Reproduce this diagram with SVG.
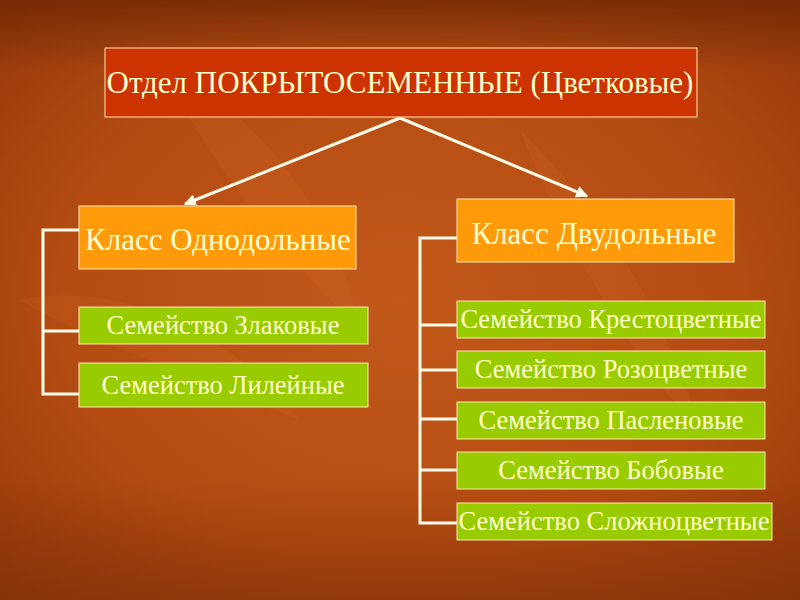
<svg xmlns="http://www.w3.org/2000/svg" width="800" height="600" viewBox="0 0 800 600">
<defs>
<radialGradient id="bg" cx="0.5" cy="0.5" r="0.7">
<stop offset="0" stop-color="#c2591a"/>
<stop offset="0.6" stop-color="#b44c12"/>
<stop offset="1" stop-color="#94380a"/>
</radialGradient>
<linearGradient id="topfade" x1="0" y1="0" x2="0" y2="1">
<stop offset="0" stop-color="#6e2604" stop-opacity="0.75"/>
<stop offset="1" stop-color="#6e2604" stop-opacity="0"/>
</linearGradient>
<linearGradient id="botfade" x1="0" y1="0" x2="0" y2="1">
<stop offset="0" stop-color="#7a2c06" stop-opacity="0"/>
<stop offset="1" stop-color="#7a2c06" stop-opacity="0.5"/>
</linearGradient>
<marker id="ah" viewBox="0 0 10 10" refX="9" refY="5" markerWidth="4" markerHeight="4" orient="auto" markerUnits="strokeWidth">
<path d="M0,0 L10,5 L0,10 z" fill="#fffbe8"/>
</marker>
<style>
.top{fill:#cc3300;stroke:#ffe8b0;stroke-width:1}
.cls{fill:#ff9a0a;stroke:#ffe8b0;stroke-width:1}
.fam{fill:#99cc00;stroke:#ffe8b0;stroke-width:1}
text{font-family:"Liberation Serif","Times New Roman",serif;fill:#ffffcc;text-anchor:middle}
.t1{font-size:31px}
.t2{font-size:31px}
.t3{font-size:26.5px}
.ln{stroke:#fffbe8;stroke-width:3;fill:none}
.leaf{fill:#e07a30;opacity:0.12}
</style>
</defs>
<rect width="800" height="600" fill="url(#bg)"/>
<rect width="800" height="70" fill="url(#topfade)"/>
<rect y="480" width="800" height="120" fill="url(#botfade)"/>
<path class="leaf" d="M160,60 C260,120 330,200 360,330 C290,260 210,170 160,60 z"/>
<path class="leaf" d="M520,130 C600,210 660,300 700,430 C630,360 570,250 520,130 z"/>
<path class="leaf" d="M20,300 C120,280 230,330 300,420 C200,380 110,350 20,300 z"/>
<g id="connectors">
<line class="ln" x1="400" y1="118" x2="185" y2="204" marker-end="url(#ah)"/>
<line class="ln" x1="400" y1="118" x2="587" y2="196" marker-end="url(#ah)"/>
<polyline class="ln" points="79,230 43,230 43,394 79,394"/>
<line class="ln" x1="43" y1="331" x2="79" y2="331"/>
<polyline class="ln" points="457,238 420,238 420,523 457,523"/>
<line class="ln" x1="420" y1="325" x2="457" y2="325"/>
<line class="ln" x1="420" y1="370" x2="457" y2="370"/>
<line class="ln" x1="420" y1="419" x2="457" y2="419"/>
<line class="ln" x1="420" y1="470" x2="457" y2="470"/>
</g>
<g id="n-root"><rect class="top" x="105" y="48" width="592" height="69"/><text class="t1" x="400" y="93">Отдел ПОКРЫТОСЕМЕННЫЕ (Цветковые)</text></g>
<g id="n-mono"><rect class="cls" x="79" y="206" width="277" height="63"/><text class="t2" x="218" y="250">Класс Однодольные</text></g>
<g id="n-di"><rect class="cls" x="457" y="199" width="277" height="63"/><text class="t2" x="594" y="244">Класс Двудольные</text></g>
<g id="n-zlak"><rect class="fam" x="79" y="307" width="289" height="37"/><text class="t3" x="223" y="334">Семейство Злаковые</text></g>
<g id="n-lil"><rect class="fam" x="79" y="363" width="289" height="44"/><text class="t3" x="223" y="394">Семейство Лилейные</text></g>
<g id="n-krest"><rect class="fam" x="457" y="301" width="308" height="37"/><text class="t3" x="611" y="328">Семейство Крестоцветные</text></g>
<g id="n-roz"><rect class="fam" x="457" y="351" width="308" height="37"/><text class="t3" x="611" y="378">Семейство Розоцветные</text></g>
<g id="n-pasl"><rect class="fam" x="457" y="402" width="308" height="37"/><text class="t3" x="611" y="429">Семейство Пасленовые</text></g>
<g id="n-bob"><rect class="fam" x="457" y="452" width="308" height="37"/><text class="t3" x="611" y="479">Семейство Бобовые</text></g>
<g id="n-slozh"><rect class="fam" x="457" y="503" width="315" height="37"/><text class="t3" x="614" y="530">Семейство Сложноцветные</text></g>
</svg>
